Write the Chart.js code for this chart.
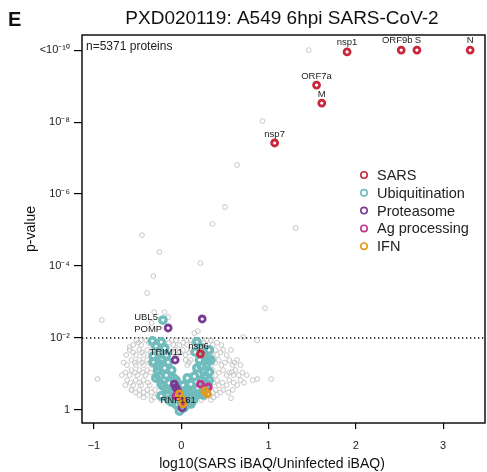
<!DOCTYPE html>
<html>
<head>
<meta charset="utf-8">
<script src="https://cdn.jsdelivr.net/npm/chart.js@4.4.0/dist/chart.umd.min.js"></script>
<style>
  body { margin: 0; background: #fff; }
  canvas { display: block; }
</style>
</head>
<body>
<canvas id="volcano" width="487" height="472"></canvas>
<script>
// x = log10(SARS iBAQ / Uninfected iBAQ), y = -log10(p)
const sarsNames = ["nsp1", "ORF9b", "S", "N", "ORF7a", "M", "nsp7", "nsp6"];
const sarsPts = [[1.90, 9.95], [2.52, 10.0], [2.70, 10.0], [3.31, 10.0], [1.55, 9.03], [1.61, 8.53], [1.07, 7.42], [0.22, 1.56]];

const proteasomePts = [[0.24, 2.53], [-0.15, 2.28], [-0.07, 1.39], [-0.08, 0.72], [-0.04, 0.53], [-0.06, 0.62], [0.01, 0.06]];
const proteasomeNames = ["", "POMP", "TRIM11", "", "", "", "RNF181"];

const agPts = [[0.22, 0.72], [0.31, 0.64], [-0.06, 0.39], [0.03, 0.25]];

const ifnPts = [[0.27, 0.53], [0.00, 0.31], [0.02, 0.17], [-0.02, 0.45], [0.30, 0.45]];

const ubiqPts = [
  [-0.21, 2.50], [-0.33, 1.92],
  [-0.23, 1.89], [-0.19, 1.72], [-0.25, 1.61], [-0.17, 1.53], [-0.23, 1.39], [-0.15, 1.33], [-0.19, 1.17],
  [-0.11, 1.11], [-0.17, 0.97], [-0.09, 0.89], [-0.14, 0.75], [-0.06, 0.67], [-0.11, 0.56], [-0.03, 0.44],
  [-0.08, 0.33], [0.00, 0.22], [-0.05, 0.14], [0.02, 0.06], [-0.02, -0.03],
  [-0.29, 1.78], [-0.32, 1.50], [-0.27, 1.22], [-0.25, 0.94], [-0.21, 0.67], [-0.16, 0.44], [-0.11, 0.22],
  [0.18, 1.89], [0.23, 1.72], [0.16, 1.61], [0.26, 1.53], [0.21, 1.39], [0.29, 1.28], [0.18, 1.17],
  [0.26, 1.06], [0.15, 0.94], [0.23, 0.83], [0.11, 0.72], [0.19, 0.61], [0.09, 0.50], [0.16, 0.39],
  [0.06, 0.28], [0.11, 0.17], [0.03, 0.06],
  [0.32, 1.67], [0.34, 1.39], [0.32, 1.06], [0.30, 0.72], [0.25, 0.42],
  [0.00, 0.42], [0.06, 0.56], [-0.06, 0.83], [0.02, 0.69], [0.07, 0.89],
  [-0.29, 0.89], [-0.23, 0.72], [-0.17, 0.56], [-0.23, 0.39], [-0.14, 0.28], [-0.06, 0.17], [0.07, 0.17],
  [0.14, 0.28], [0.21, 0.44], [0.27, 0.61], [0.32, 0.83], [0.27, 0.94], [0.23, 1.22], [0.30, 1.39],
  [0.11, 0.39], [0.05, 0.39], [-0.09, 0.50], [-0.27, 1.11], [-0.32, 1.33], [-0.25, 1.28]
];
const ubiqNames = ["UBL5"];

const otherPts = [
  [1.46, 10.0], [0.93, 8.03], [0.64, 6.81], [0.50, 5.64], [0.36, 5.17], [1.31, 5.06], [-0.45, 4.86],
  [-0.25, 4.39], [0.22, 4.08], [-0.32, 3.72], [-0.39, 3.25], [0.96, 2.83], [-0.91, 2.50], [-0.31, 2.72],
  [-0.19, 2.72], [-0.15, 2.58], [-0.34, 2.42], [0.15, 2.14], [0.19, 2.19], [0.71, 2.03], [0.87, 1.94],
  [-0.59, 1.75], [-0.96, 0.86], [0.82, 0.83], [0.87, 0.86], [1.03, 0.86], [0.58, 1.06], [0.60, 0.97],
  [0.57, 0.33], [-0.57, 0.56],
  [-0.51, 1.94], [-0.46, 1.94], [-0.40, 1.94], [-0.11, 1.94], [-0.06, 1.94], [0.06, 1.94], [0.11, 1.94], [0.17, 1.94], [0.29, 1.94], [0.34, 1.94],
  [-0.55, 1.81], [-0.46, 1.81], [-0.34, 1.81], [-0.09, 1.81], [-0.02, 1.81], [0.07, 1.81], [0.23, 1.81], [0.36, 1.81], [0.46, 1.81],
  [-0.59, 1.67], [-0.48, 1.67], [-0.39, 1.67], [-0.07, 1.67], [0.02, 1.67], [0.11, 1.67], [0.27, 1.67], [0.39, 1.67], [0.48, 1.67], [0.57, 1.67],
  [-0.63, 1.53], [-0.52, 1.53], [-0.43, 1.53], [-0.05, 1.53], [0.05, 1.53], [0.30, 1.53], [0.41, 1.53], [0.52, 1.53],
  [-0.57, 1.39], [-0.48, 1.39], [-0.39, 1.39], [0.05, 1.39], [0.11, 1.39], [0.32, 1.39], [0.43, 1.39], [0.55, 1.39], [0.64, 1.39],
  [-0.62, 1.25], [-0.52, 1.25], [-0.43, 1.25], [-0.34, 1.25], [0.07, 1.25], [0.34, 1.25], [0.46, 1.25], [0.59, 1.25], [0.68, 1.25],
  [-0.57, 1.11], [-0.48, 1.11], [-0.39, 1.11], [0.36, 1.11], [0.48, 1.11], [0.62, 1.11],
  [-0.68, 0.97], [-0.59, 0.97], [-0.50, 0.97], [-0.41, 0.97], [0.39, 0.97], [0.52, 0.97], [0.66, 0.97], [0.75, 0.97],
  [-0.62, 0.83], [-0.52, 0.83], [-0.43, 0.83], [0.41, 0.83], [0.55, 0.83], [0.68, 0.83],
  [-0.64, 0.69], [-0.55, 0.69], [-0.46, 0.69], [-0.36, 0.69], [0.43, 0.69], [0.52, 0.69], [0.64, 0.69],
  [-0.57, 0.56], [-0.48, 0.56], [-0.39, 0.56], [-0.30, 0.56], [0.39, 0.56], [0.48, 0.56], [0.59, 0.56],
  [-0.48, 0.42], [-0.39, 0.42], [-0.27, 0.42], [0.32, 0.42], [0.41, 0.42],
  [-0.34, 0.28], [-0.23, 0.28], [0.23, 0.28], [0.34, 0.28],
  [-0.49, 1.87], [-0.37, 1.87], [-0.14, 1.87], [0.02, 1.87], [0.14, 1.87], [0.26, 1.87], [0.41, 1.87],
  [-0.55, 1.60], [-0.45, 1.60], [-0.35, 1.60], [-0.02, 1.60], [0.09, 1.60], [0.25, 1.60], [0.35, 1.60], [0.45, 1.60],
  [-0.66, 1.32], [-0.53, 1.32], [-0.45, 1.32], [-0.36, 1.32], [0.09, 1.32], [0.29, 1.32], [0.39, 1.32], [0.50, 1.32], [0.61, 1.32],
  [-0.64, 1.04], [-0.53, 1.04], [-0.44, 1.04], [-0.35, 1.04], [0.32, 1.04], [0.43, 1.04], [0.55, 1.04], [0.70, 1.04],
  [-0.58, 0.76], [-0.48, 0.76], [-0.38, 0.76], [0.37, 0.76], [0.47, 0.76], [0.60, 0.76], [0.72, 0.76],
  [-0.52, 0.49], [-0.43, 0.49], [-0.34, 0.49], [0.27, 0.49], [0.36, 0.49], [0.45, 0.49], [0.54, 0.49],
  [-0.43, 0.35], [-0.31, 0.35], [0.27, 0.35], [0.37, 0.35]
];

const legendNames = ["SARS", "Ubiquitination", "Proteasome", "Ag processing", "IFN"];
const legendColors = ["#c8283a", "#6fbcbc", "#7b3a94", "#c2348c", "#e39a1e"];

const xTickValues = [-1, 0, 1, 2, 3];
const xTickLabels = ["\u22121", "0", "1", "2", "3"];
const yTickValues = [0, 2, 4, 6, 8, 10];
const yTickLabels = ["1", "10\u207B\u00B2", "10\u207B\u2074", "10\u207B\u2076", "10\u207B\u2078", "<10\u207B\u00B9\u2070"];
const pCutoff = 2; // -log10(0.01)

const FONT = "'Liberation Sans', Arial, Helvetica, sans-serif";
const toXY = pts => pts.map(([x, y]) => ({ x, y }));

// pixel nudges for the protein labels, relative to their points
const labelOffsets = {
  nsp1: [0, -10, "center"], ORF9b: [-4, -10, "center"], S: [1, -10, "center"], N: [0, -10, "center"],
  ORF7a: [0, -9, "center"], M: [0, -9, "center"], nsp7: [0, -9, "center"], nsp6: [-2, -8, "center"],
  POMP: [-6, 1, "right"], TRIM11: [-9, -8, "center"], RNF181: [-4, -8, "center"], UBL5: [-5, -3, "right"]
};

const decorations = {
  id: "decorations",
  beforeDatasetsDraw(chart) {
    const { ctx, chartArea: a, scales } = chart;
    const y = scales.y.getPixelForValue(pCutoff);
    ctx.save();
    ctx.strokeStyle = "#000";
    ctx.lineWidth = 1.4;
    ctx.setLineDash([1.3, 2.7]);
    ctx.beginPath();
    ctx.moveTo(a.left, y);
    ctx.lineTo(a.right, y);
    ctx.stroke();
    ctx.restore();
  },
  afterDatasetsDraw(chart) {
    const { ctx, chartArea: a, scales } = chart;
    ctx.save();
    // box
    ctx.strokeStyle = "#000";
    ctx.lineWidth = 1.4;
    ctx.strokeRect(a.left, a.top, a.right - a.left, a.bottom - a.top);

    // protein labels
    ctx.fillStyle = "#222";
    ctx.font = "9.5px " + FONT;
    ctx.textBaseline = "middle";
    const put = (pts, names) => names.forEach((n, i) => {
      if (!n) return;
      const [dx, dy, align] = labelOffsets[n];
      ctx.textAlign = align;
      ctx.fillText(n, scales.x.getPixelForValue(pts[i][0]) + dx, scales.y.getPixelForValue(pts[i][1]) + dy);
    });
    put(sarsPts, sarsNames);
    put(proteasomePts, proteasomeNames);
    put(ubiqPts, ubiqNames);

    // n label
    ctx.textAlign = "left";
    ctx.font = "12px " + FONT;
    ctx.fillText("n=5371 proteins", a.left + 4, a.top + 12);

    // legend
    ctx.font = "14.5px " + FONT;
    legendNames.forEach((n, i) => {
      const ly = 175 + i * 17.8;
      ctx.strokeStyle = legendColors[i];
      ctx.lineWidth = 1.6;
      ctx.beginPath();
      ctx.arc(364, ly, 3.2, 0, Math.PI * 2);
      ctx.stroke();
      ctx.fillStyle = "#222";
      ctx.fillText(n, 377, ly + 1);
    });

    // titles
    ctx.fillStyle = "#111";
    ctx.font = "bold 20px " + FONT;
    ctx.fillText("E", 8, 20);
    ctx.textAlign = "center";
    ctx.font = "19px " + FONT;
    ctx.fillText("PXD020119: A549 6hpi SARS-CoV-2", 282, 19);
    ctx.font = "14px " + FONT;
    ctx.fillText("log10(SARS iBAQ/Uninfected iBAQ)", 272, 464);
    ctx.translate(31, (a.top + a.bottom) / 2);
    ctx.rotate(-Math.PI / 2);
    ctx.fillText("p-value", 0, 0);
    ctx.restore();
  }
};

const ring = (data, color, r, bw, order) => ({
  data: toXY(data), borderColor: color, backgroundColor: "rgba(0,0,0,0)",
  pointRadius: r, pointBorderWidth: bw, pointHoverRadius: r, order
});

new Chart(document.getElementById("volcano"), {
  type: "scatter",
  data: {
    datasets: [
      ring(sarsPts, legendColors[0], 3.0, 2.8, 0),
      ring(ifnPts, legendColors[4], 3.0, 2.8, 1),
      ring(agPts, legendColors[3], 3.0, 2.8, 2),
      ring(proteasomePts, legendColors[2], 3.0, 2.8, 3),
      ring(ubiqPts, legendColors[1], 3.2, 3.4, 4),
      ring(otherPts, "#c6c6c6", 2.4, 1, 5)
    ]
  },
  options: {
    responsive: false,
    animation: false,
    devicePixelRatio: 1,
    layout: { autoPadding: false, padding: { left: 0, right: 2, top: 35, bottom: 0 } },
    plugins: { legend: { display: false }, tooltip: { enabled: false } },
    scales: {
      x: {
        type: "linear", min: -1.137, max: 3.48,
        afterFit: s => { s.height = 49; s.paddingLeft = 0; s.paddingRight = 0; },
        afterBuildTicks: s => { s.ticks = xTickValues.map(v => ({ value: v })); },
        border: { display: false },
        grid: { drawOnChartArea: false, drawTicks: true, tickLength: 6, color: "#000", lineWidth: 1.2 },
        ticks: {
          padding: 10, color: "#222", font: { family: FONT, size: 11 }, maxRotation: 0,
          callback: v => xTickLabels[xTickValues.indexOf(v)]
        }
      },
      y: {
        type: "linear", min: -0.36, max: 10.42,
        afterFit: s => { s.width = 82; s.paddingTop = 0; s.paddingBottom = 0; },
        afterBuildTicks: s => { s.ticks = yTickValues.map(v => ({ value: v })); },
        border: { display: false },
        grid: { drawOnChartArea: false, drawTicks: true, tickLength: 8, color: "#000", lineWidth: 1.2 },
        ticks: {
          padding: 4, color: "#222", font: { family: FONT, size: 11 },
          callback: v => yTickLabels[yTickValues.indexOf(v)]
        }
      }
    }
  },
  plugins: [decorations]
});
</script>
</body>
</html>
